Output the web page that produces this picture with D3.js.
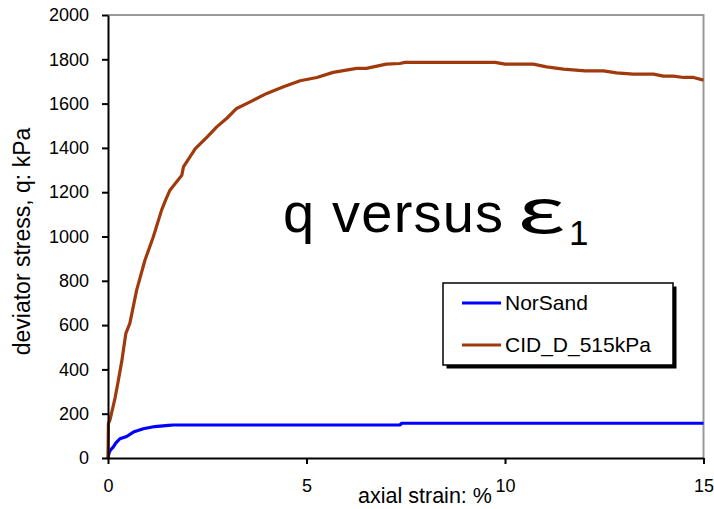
<!DOCTYPE html>
<html>
<head>
<meta charset="utf-8">
<script src="https://cdn.jsdelivr.net/npm/d3@7"></script>
<style>
  html, body { margin: 0; padding: 0; background: #fff; }
  svg { display: block; font-family: "Liberation Sans", Arial, Helvetica, sans-serif; }
</style>
</head>
<body>
<svg id="chart" width="714" height="509"></svg>
<script>
// Drained triaxial test CID_D_515kPa vs. NorSand prediction
const cidStrain = [0, 0.01, 0.05, 0.1, 0.18, 0.25, 0.345, 0.45, 0.55, 0.72, 0.93, 1.14, 1.35, 1.45, 1.56, 1.7, 1.86, 1.9, 2.2, 2.5, 2.74, 3.0, 3.24, 3.58, 4.0, 4.42, 4.84, 5.26, 5.67, 6.26, 6.51, 7.01, 7.35, 7.48, 9.75, 10.0, 10.71, 11.05, 11.47, 12.02, 12.48, 12.81, 13.23, 13.74, 13.99, 14.24, 14.5, 14.75, 15];
const cidQ      = [0, 155, 172, 210, 273, 340, 435, 563, 608, 757, 893, 998, 1119, 1164, 1209, 1240, 1277, 1314, 1397, 1450, 1495, 1535, 1578, 1608, 1646, 1676, 1703, 1718, 1741, 1759, 1759, 1778, 1781, 1786, 1786, 1778, 1778, 1766, 1756, 1748, 1748, 1739, 1733, 1733, 1724, 1724, 1718, 1718, 1706];

const norStrain = [0, 0.03, 0.07, 0.13, 0.2, 0.3, 0.47, 0.64, 0.89, 1.18, 1.52, 1.65, 7.35, 7.4, 15];
const norQ      = [0, 25, 38, 49, 68, 87, 97, 117, 132, 142, 147, 149, 149, 157, 157];

const xTicks = [0, 5, 10, 15];
const yTicks = [0, 200, 400, 600, 800, 1000, 1200, 1400, 1600, 1800, 2000];

const seriesNames = ["NorSand", "CID_D_515kPa"];
const seriesColors = ["#0000FF", "#A03A0C"];

const svg = d3.select("#chart");
const plotL = 108, plotR = 703.5, plotT = 15, plotB = 458;

const x = d3.scaleLinear().domain([0, 15]).range([plotL, plotR]);
const y = d3.scaleLinear().domain([0, 2000]).range([plotB, plotT]);

// frame (top and right)
svg.append("path")
  .attr("d", `M${plotL},${plotT}H${plotR}V${plotB}`)
  .attr("fill", "none").attr("stroke", "#999").attr("stroke-width", 2);

// curves
const line = d3.line().x(d => x(d[0])).y(d => y(d[1]));
const series = [
  d3.zip(norStrain, norQ),
  d3.zip(cidStrain, cidQ)
];
series.forEach((s, i) => {
  svg.append("path").datum(s)
    .attr("d", line)
    .attr("fill", "none")
    .attr("stroke", seriesColors[i])
    .attr("stroke-width", 3.2)
    .attr("stroke-linejoin", "round");
});

// axes
const xAxis = svg.append("g").attr("transform", `translate(0,${plotB})`)
  .call(d3.axisBottom(x).tickValues(xTicks).tickFormat(d3.format("d")).tickSize(6).tickPadding(15).tickSizeOuter(0));
const yAxis = svg.append("g").attr("transform", `translate(${plotL},0)`)
  .call(d3.axisLeft(y).tickValues(yTicks).tickFormat(d3.format("d")).tickSize(6).tickPadding(13).tickSizeOuter(0));

[xAxis, yAxis].forEach(g => {
  g.select(".domain").attr("stroke", "#000").attr("stroke-width", 2);
  g.selectAll(".tick line").attr("stroke", "#000").attr("stroke-width", 2);
  g.selectAll(".tick text").attr("fill", "#000").attr("font-size", 18)
    .attr("font-family", "'Liberation Sans', Arial, sans-serif");
});

// axis titles
svg.append("text")
  .attr("x", 425).attr("y", 503)
  .attr("text-anchor", "middle")
  .attr("font-size", 21.5)
  .text("axial strain: %");

svg.append("text")
  .attr("transform", "translate(30,241.5) rotate(-90)")
  .attr("text-anchor", "middle")
  .attr("font-size", 23)
  .text("deviator stress, q: kPa");

// in-plot title: "q versus ε₁"
svg.append("text")
  .attr("x", 283).attr("y", 232)
  .attr("font-size", 56)
  .attr("letter-spacing", 1.2)
  .text("q versus");
const eps = svg.append("text")
  .attr("font-size", 60)
  .attr("font-family", "'Noto Sans CJK JP', 'Liberation Sans', sans-serif")
  .text("ε");
// fit the epsilon into its slot between "versus" and the subscript
const epsW = eps.node().getComputedTextLength();
const sx = Math.min(1.6, 55 / epsW);
eps.attr("transform", `translate(517,232.5) scale(${sx},1)`);
svg.append("text")
  .attr("x", 569).attr("y", 245)
  .attr("font-size", 35)
  .text("1");

// legend
const lg = svg.append("g").attr("transform", "translate(443,283)");
lg.append("rect").attr("x", 3.5).attr("y", 3.5).attr("width", 230).attr("height", 82).attr("fill", "#000");
lg.append("rect").attr("width", 230).attr("height", 82).attr("fill", "#fff").attr("stroke", "#000").attr("stroke-width", 1.5);
seriesNames.forEach((name, i) => {
  const yy = 20 + i * 42;
  lg.append("line").attr("x1", 19).attr("x2", 58).attr("y1", yy).attr("y2", yy)
    .attr("stroke", seriesColors[i]).attr("stroke-width", 3.2);
  lg.append("text").attr("x", 62).attr("y", yy).attr("dy", "0.35em")
    .attr("font-size", 21).text(name);
});
</script>
</body>
</html>
